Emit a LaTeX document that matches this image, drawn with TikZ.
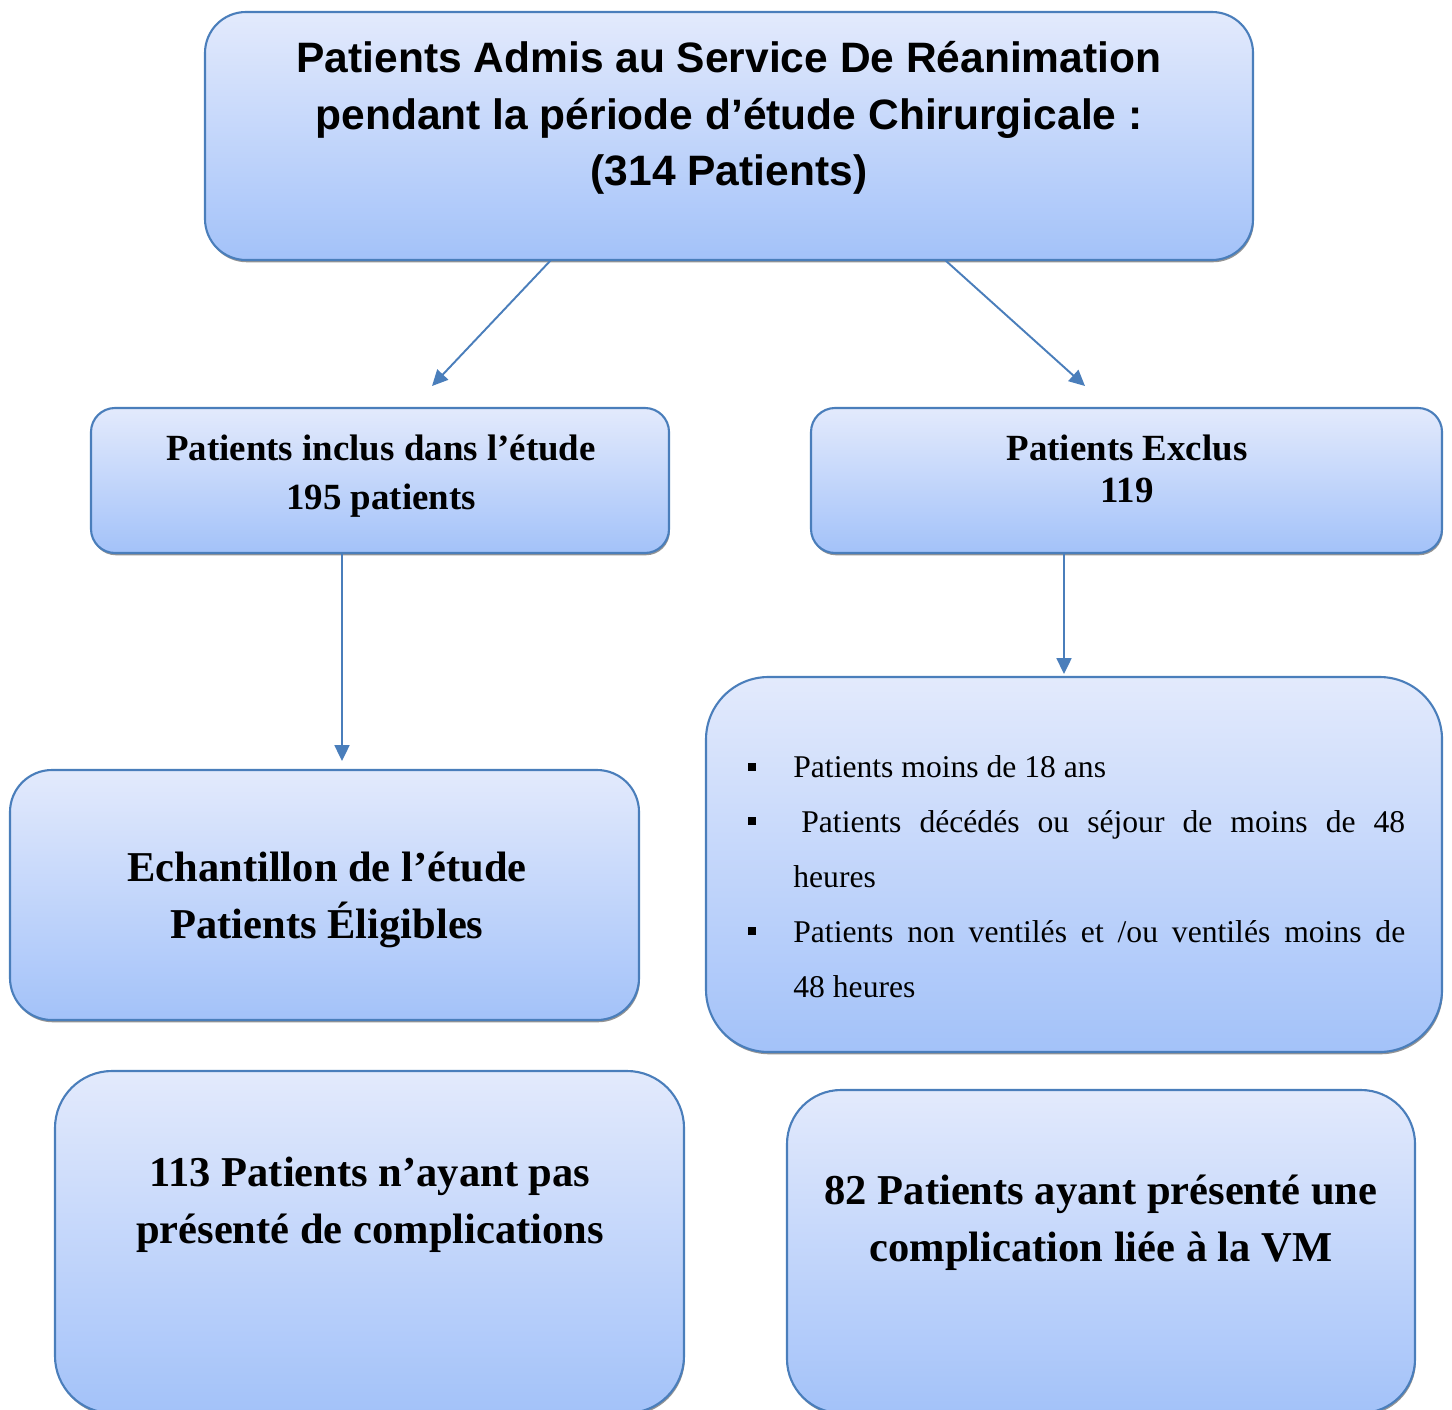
\documentclass[tikz,border=0pt]{standalone}
\usepackage{fontspec}
\setmainfont{Liberation Serif}
\newfontfamily\arialfont{Liberation Sans}
\usetikzlibrary{fit,shadows,arrows.meta}
\definecolor{boxtop}{RGB}{227,234,252}
\definecolor{boxbot}{RGB}{163,194,249}
\definecolor{boxline}{RGB}{74,126,187}
\tikzset{
  box/.style={rounded corners=#1, draw=boxline, line width=1.2pt,
    top color=boxtop, bottom color=boxbot, inner sep=0pt,
    drop shadow={shadow xshift=0.5pt, shadow yshift=-1.3pt, fill=black!60, opacity=0.7}},
  conn/.style={draw=boxline, line width=1.1pt, -{Triangle[length=9pt,width=8.5pt]}},
  title/.style={font=\arialfont\bfseries\fontsize{24.2}{32.3}\selectfont, align=center, inner sep=0pt},
  big/.style={font=\bfseries\fontsize{24.2}{32.3}\selectfont, align=center, inner sep=0pt},
  mid/.style={font=\bfseries\fontsize{21}{28.3}\selectfont, align=center, inner sep=0pt},
  itemtxt/.style={font=\fontsize{18}{22}\selectfont, anchor=base west, inner sep=0pt},
  bulletmark/.style={fill=black, minimum size=0.16cm, inner sep=0pt},
}
\begin{document}
\begin{tikzpicture}[x=0.02cm, y=-0.02cm]
\useasboundingbox (0,0) rectangle (1452,1409);
\clip (0,0) rectangle (1452,1409);
% boxes
\node[box=0.82cm, fit={(205,12) (1253,260)}] (top) {};
\node[box=0.48cm, fit={(91,408) (669,553)}] (inclus) {};
\node[box=0.48cm, fit={(811,408) (1442,553)}] (exclus) {};
\node[box=0.84cm, fit={(10,770) (639,1020)}] (echant) {};
\node[box=1.25cm, fit={(706,677) (1442,1052)}] (criteria) {};
\node[box=1.14cm, fit={(55,1071) (684,1413)}] (sans) {};
\node[box=1.08cm, fit={(787,1090) (1415,1413)}] (avec) {};
% texts
\node[title] (ttop) at (729,118) {Patients Admis au Service De Réanimation\\pendant la période d’étude Chirurgicale :\\(314 Patients)};
\node[mid] (tinclus) at (381,476) {Patients inclus dans l’étude\\195 patients};
\node[font=\bfseries\fontsize{21}{23.8}\selectfont, align=center, inner sep=0pt, anchor=base] (texclus) at (1127,502) {Patients Exclus\\119};
\node[big] (techant) at (327,900) {Echantillon de l’étude\\Patients Éligibles};
\node[big] (tsans) at (370,1205) {113 Patients n’ayant pas\\présenté de complications};
\node[big] (tavec) at (1101,1223) {82 Patients ayant présenté une\\complication liée à la VM};
% criteria list
\node[bulletmark] (b1) at (752,767) {};
\node[bulletmark] (b2) at (752,821) {};
\node[bulletmark] (b3) at (752,931) {};
\node[itemtxt] (i1) at (793,777) {Patients moins de 18 ans};
\node[itemtxt] (i2a) at (801,832) {\makebox[12.08cm][s]{Patients décédés ou séjour de moins de 48}};
\node[itemtxt] (i2b) at (793,887) {heures};
\node[itemtxt] (i3a) at (793,942) {\makebox[12.24cm][s]{Patients non ventilés et /ou ventilés moins de}};
\node[itemtxt] (i3b) at (793,997) {48 heures};
% connectors
\coordinate (a1s) at (551,260);
\coordinate (a1e) at (432,386);
\coordinate (a2s) at (945,260);
\coordinate (a2e) at (1085,386);
\coordinate (a3e) at (342,761);
\coordinate (a4e) at (1064,674);
\draw[conn] (a1s) -- (a1e);
\draw[conn] (a2s) -- (a2e);
\draw[conn] (inclus.south -| a3e) -- (a3e);
\draw[conn] (exclus.south -| a4e) -- (a4e);
\end{tikzpicture}
\end{document}
